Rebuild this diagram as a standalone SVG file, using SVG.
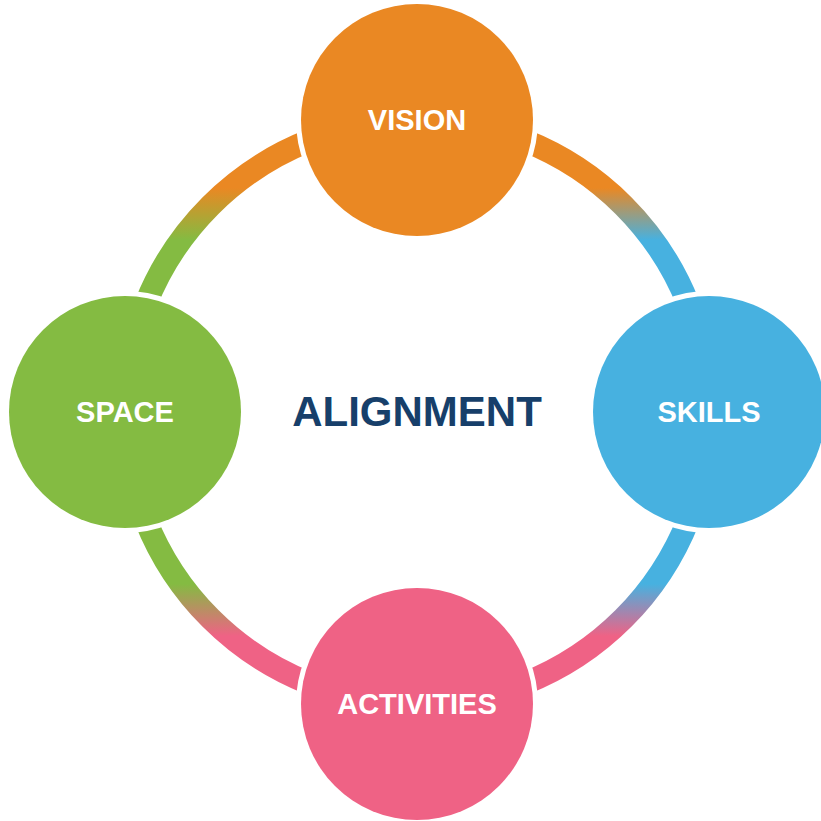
<svg xmlns="http://www.w3.org/2000/svg" width="821" height="821" viewBox="0 0 821 821">
<style>
.ring{fill:none;stroke-width:23}
.node{stroke:#ffffff;stroke-width:10;paint-order:stroke}
.lbl{font-family:"Liberation Sans",Arial,sans-serif;font-weight:bold;font-size:29px;fill:#ffffff;text-anchor:middle}
.title{font-family:"Liberation Sans",Arial,sans-serif;font-weight:bold;font-size:42px;fill:#173F6A;text-anchor:middle}
</style>
<defs>
<linearGradient id="gTop1" gradientUnits="userSpaceOnUse" x1="0" y1="188" x2="0" y2="240"><stop offset="0" stop-color="#EA8823"/><stop offset="1" stop-color="#47B1E0"/></linearGradient>
<linearGradient id="gTop2" gradientUnits="userSpaceOnUse" x1="0" y1="188" x2="0" y2="240"><stop offset="0" stop-color="#EA8823"/><stop offset="1" stop-color="#84BB42"/></linearGradient>
<linearGradient id="gBot1" gradientUnits="userSpaceOnUse" x1="0" y1="584" x2="0" y2="636"><stop offset="0" stop-color="#47B1E0"/><stop offset="1" stop-color="#EF6285"/></linearGradient>
<linearGradient id="gBot2" gradientUnits="userSpaceOnUse" x1="0" y1="584" x2="0" y2="636"><stop offset="0" stop-color="#84BB42"/><stop offset="1" stop-color="#EF6285"/></linearGradient>
</defs>
<rect width="821" height="821" fill="#ffffff"/>
<g id="connectors">
<path class="ring" stroke="url(#gTop1)" d="M417,120 A292,292 0 0 1 709,412"/>
<path class="ring" stroke="url(#gTop2)" d="M125,412 A292,292 0 0 1 417,120"/>
<path class="ring" stroke="url(#gBot1)" d="M709,412 A292,292 0 0 1 417,704"/>
<path class="ring" stroke="url(#gBot2)" d="M417,704 A292,292 0 0 1 125,412"/>
</g>
<g id="vision"><circle class="node" cx="417" cy="120" r="116" fill="#EA8823"/><text class="lbl" x="417" y="130">VISION</text></g>
<g id="skills"><circle class="node" cx="709" cy="412" r="116" fill="#47B1E0"/><text class="lbl" x="709" y="422">SKILLS</text></g>
<g id="activities"><circle class="node" cx="417" cy="704" r="116" fill="#EF6285"/><text class="lbl" x="417" y="714">ACTIVITIES</text></g>
<g id="space"><circle class="node" cx="125" cy="412" r="116" fill="#84BB42"/><text class="lbl" x="125" y="422">SPACE</text></g>
<g id="center"><text class="title" x="417" y="426">ALIGNMENT</text></g>
</svg>
